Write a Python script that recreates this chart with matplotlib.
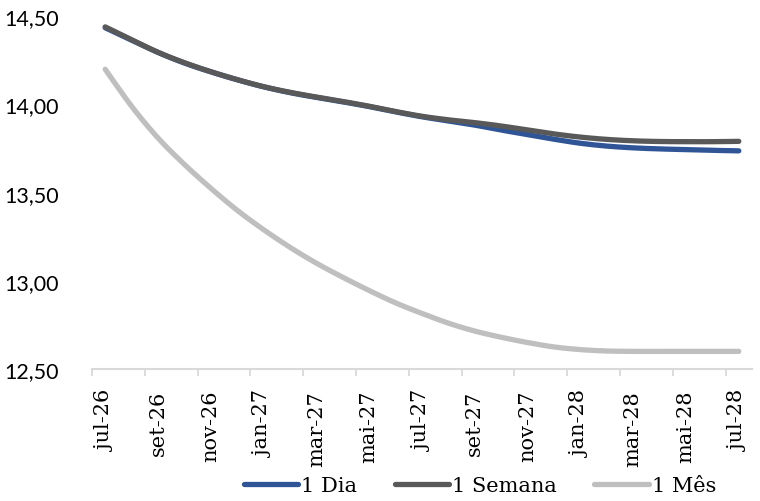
import numpy as np
import matplotlib
matplotlib.use("Agg")
import matplotlib.pyplot as plt

# monthly path, jul-26 .. jul-28
months = ["jul-26", "ago-26", "set-26", "out-26", "nov-26", "dez-26",
          "jan-27", "fev-27", "mar-27", "abr-27", "mai-27", "jun-27",
          "jul-27", "ago-27", "set-27", "out-27", "nov-27", "dez-27",
          "jan-28", "fev-28", "mar-28", "abr-28", "mai-28", "jun-28", "jul-28"]

dia = [14.435, 14.365, 14.295, 14.235, 14.185, 14.14, 14.10, 14.067, 14.04,
       14.015, 13.988, 13.958, 13.930, 13.907, 13.883, 13.855, 13.829, 13.803,
       13.780, 13.764, 13.754, 13.748, 13.744, 13.740, 13.737]
semana = [14.44, 14.367, 14.296, 14.237, 14.186, 14.141, 14.101, 14.069, 14.042,
          14.017, 13.99, 13.96, 13.933, 13.913, 13.897, 13.878, 13.855, 13.833,
          13.815, 13.802, 13.794, 13.79, 13.789, 13.789, 13.791]
mes = [14.20, 13.99, 13.81, 13.66, 13.525, 13.40, 13.29, 13.19, 13.10, 13.02,
       12.945, 12.875, 12.815, 12.76, 12.715, 12.68, 12.65, 12.625, 12.61, 12.602,
       12.60, 12.60, 12.60, 12.60, 12.60]

series = [("1 Dia", dia, "#2F5597"),
          ("1 Semana", semana, "#595959"),
          ("1 Mês", mes, "#BFBFBF")]


def smooth(x, y, n=20):
    # spreadsheet-style smoothed line: cubic bezier through each point
    x = np.asarray(x, float)
    y = np.asarray(y, float)
    px = np.concatenate([[x[0]], x, [x[-1]]])
    py = np.concatenate([[y[0]], y, [y[-1]]])
    t = np.linspace(0, 1, n)[:, None]
    xs, ys = [], []
    for i in range(1, len(px) - 2):
        p0 = np.array([px[i], py[i]])
        p3 = np.array([px[i + 1], py[i + 1]])
        c1 = p0 + (p3 - np.array([px[i - 1], py[i - 1]])) / 6
        c2 = p3 - (np.array([px[i + 2], py[i + 2]]) - p0) / 6
        b = ((1 - t) ** 3) * p0 + 3 * ((1 - t) ** 2) * t * c1 + 3 * (1 - t) * t ** 2 * c2 + t ** 3 * p3
        xs.append(b[:, 0])
        ys.append(b[:, 1])
    return np.concatenate(xs), np.concatenate(ys)


fig = plt.figure(figsize=(7.6, 5.02), dpi=100)
ax = fig.add_axes([92 / 760, 132 / 502, 660 / 760, 352.7 / 502])

x = np.arange(len(months))
for name, vals, color in series:
    sx, sy = smooth(x, vals)
    ax.plot(sx, sy, color=color, lw=3.8, solid_capstyle="round", label=name)

ax.set_xlim(-0.5, len(months) - 0.5)
ax.set_ylim(12.5, 14.5)

ax.set_yticks([12.5, 13.0, 13.5, 14.0, 14.5])
ax.set_yticklabels([f"{v:.2f}".replace(".", ",") for v in [12.5, 13.0, 13.5, 14.0, 14.5]],
                   fontfamily="Lato", fontsize=15.5)
ax.tick_params(axis="y", length=0, pad=24)

ax.set_xticks(x[::2])
ax.set_xticklabels(months[::2], rotation=90, fontfamily="DejaVu Serif", fontsize=15)
ax.set_xticks(np.arange(-0.5, len(months) - 1, 2), minor=True)
ax.tick_params(axis="x", which="major", length=0, pad=15)
ax.tick_params(axis="x", which="minor", length=5, width=1.3, color="#D9D9D9")

for side in ["top", "right", "left"]:
    ax.spines[side].set_visible(False)
ax.spines["bottom"].set_color("#D9D9D9")
ax.spines["bottom"].set_linewidth(1.5)

fig.legend(loc="center", bbox_to_anchor=(480 / 760, 0.03), ncol=3, frameon=False,
           prop={"family": "DejaVu Serif", "size": 15}, handlelength=2.6,
           handletextpad=0.15, columnspacing=1.8)

fig.savefig("out.png", dpi=100)
